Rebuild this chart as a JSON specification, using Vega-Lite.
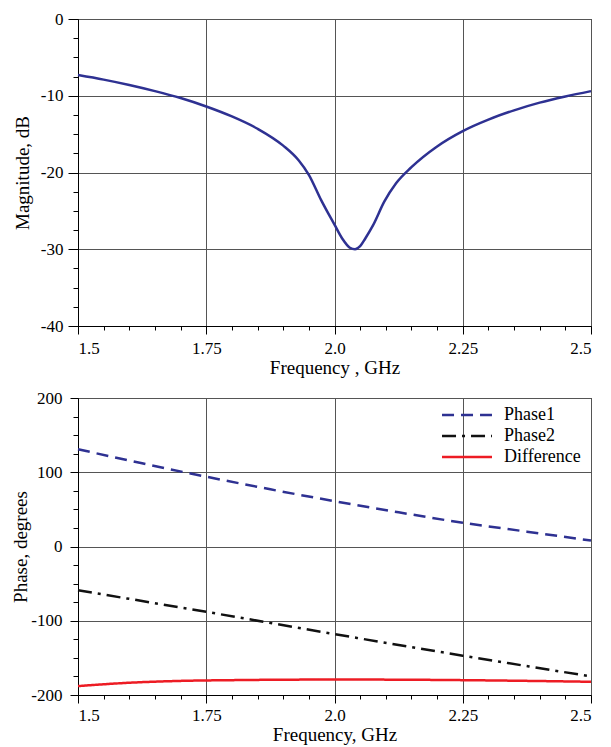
{
  "$schema": "https://vega.github.io/schema/vega-lite/v6.json",
  "padding": {"left": 11, "top": 9, "right": 5, "bottom": 0},
  "spacing": 10,
  "resolve": {"legend": {"color": "independent", "strokeDash": "independent"}},
  "config": {
    "font": "Liberation Serif",
    "view": {"stroke": "#000000", "strokeWidth": 1},
    "axis": {
      "labelFont": "Liberation Serif",
      "labelFontSize": 17,
      "labelColor": "#000000",
      "titleFont": "Liberation Serif",
      "titleFontSize": 19,
      "titleFontWeight": "normal",
      "titleColor": "#000000",
      "domainColor": "#000000",
      "tickColor": "#000000",
      "gridColor": "#555555",
      "gridWidth": 1
    },
    "legend": {
      "labelFont": "Liberation Serif",
      "labelFontSize": 18,
      "labelColor": "#000000"
    }
  },
  "datasets": {
    "mag": [
      {"f": 1.5, "db": -7.3}, {"f": 1.55, "db": -7.9}, {"f": 1.6, "db": -8.6},
      {"f": 1.65, "db": -9.4}, {"f": 1.7, "db": -10.3}, {"f": 1.75, "db": -11.4},
      {"f": 1.8, "db": -12.7}, {"f": 1.85, "db": -14.3}, {"f": 1.9, "db": -16.5},
      {"f": 1.93, "db": -18.4}, {"f": 1.95, "db": -20.3}, {"f": 1.974, "db": -23.6},
      {"f": 2.0, "db": -26.8}, {"f": 2.015, "db": -28.6}, {"f": 2.03, "db": -29.8},
      {"f": 2.04, "db": -30.0}, {"f": 2.05, "db": -29.6}, {"f": 2.06, "db": -28.6},
      {"f": 2.075, "db": -26.9}, {"f": 2.097, "db": -23.8}, {"f": 2.12, "db": -21.4},
      {"f": 2.15, "db": -19.3}, {"f": 2.2, "db": -16.6}, {"f": 2.25, "db": -14.6},
      {"f": 2.3, "db": -13.1}, {"f": 2.35, "db": -11.9}, {"f": 2.4, "db": -10.9},
      {"f": 2.45, "db": -10.1}, {"f": 2.5, "db": -9.4}
    ],
    "phase": [
      {"f": 1.5, "v": 131, "s": "Phase1"}, {"f": 1.625, "v": 112, "s": "Phase1"},
      {"f": 1.75, "v": 94, "s": "Phase1"}, {"f": 1.875, "v": 77, "s": "Phase1"},
      {"f": 2.0, "v": 61, "s": "Phase1"}, {"f": 2.125, "v": 46, "s": "Phase1"},
      {"f": 2.25, "v": 32, "s": "Phase1"}, {"f": 2.375, "v": 20, "s": "Phase1"},
      {"f": 2.5, "v": 8, "s": "Phase1"},
      {"f": 1.5, "v": -59, "s": "Phase2"}, {"f": 1.75, "v": -88, "s": "Phase2"},
      {"f": 2.0, "v": -118, "s": "Phase2"}, {"f": 2.25, "v": -147, "s": "Phase2"},
      {"f": 2.5, "v": -175, "s": "Phase2"},
      {"f": 1.5, "v": -188, "s": "Difference"}, {"f": 1.6, "v": -183.5, "s": "Difference"},
      {"f": 1.7, "v": -181, "s": "Difference"}, {"f": 1.8, "v": -180, "s": "Difference"},
      {"f": 1.9, "v": -179.4, "s": "Difference"}, {"f": 2.0, "v": -179.2, "s": "Difference"},
      {"f": 2.1, "v": -179.3, "s": "Difference"}, {"f": 2.25, "v": -180, "s": "Difference"},
      {"f": 2.4, "v": -181.2, "s": "Difference"}, {"f": 2.5, "v": -182.2, "s": "Difference"}
    ]
  },
  "vconcat": [
    {
      "width": 513,
      "height": 307,
      "data": {"name": "mag"},
      "layer": [
        {
          "mark": {"type": "line", "color": "#2E3192", "strokeWidth": 2.5, "interpolate": "monotone"},
          "encoding": {
            "x": {
              "field": "f", "type": "quantitative",
              "scale": {"domain": [1.5, 2.5], "nice": false, "zero": false},
              "axis": {
                "values": [1.5, 1.75, 2.0, 2.25, 2.5],
                "labelExpr": "datum.value == 2 ? '2.0' : format(datum.value, '.3~f')",
                "labelFont": "Liberation Serif",
                "grid": true, "tickSize": 8, "labelPadding": 6,
                "title": "Frequency , GHz", "titlePadding": 2
              }
            },
            "y": {
              "field": "db", "type": "quantitative",
              "scale": {"domain": [-40, 0], "nice": false},
              "axis": {
                "values": [0, -10, -20, -30, -40],
                "labelExpr": "(datum.value < 0 ? '-' : '') + abs(datum.value)",
                "labelFont": "Liberation Serif",
                "grid": true, "tickSize": 10, "labelPadding": 5,
                "title": "Magnitude, dB", "titlePadding": 8
              }
            }
          }
        },
        {
          "mark": {"type": "point", "opacity": 0},
          "encoding": {
            "x": {
              "field": "f", "type": "quantitative",
              "scale": {"domain": [1.5, 2.5], "nice": false, "zero": false},
              "axis": {
                "orient": "bottom",
                "values": [1.55, 1.6, 1.65, 1.7, 1.8, 1.85, 1.9, 1.95, 2.05, 2.1, 2.15, 2.2, 2.3, 2.35, 2.4, 2.45],
                "labels": false, "grid": false, "domain": false, "tickSize": 4, "title": null
              }
            },
            "y": {
              "field": "db", "type": "quantitative",
              "scale": {"domain": [-40, 0], "nice": false},
              "axis": {
                "orient": "left",
                "values": [-2.5, -5, -7.5, -12.5, -15, -17.5, -22.5, -25, -27.5, -32.5, -35, -37.5],
                "labels": false, "grid": false, "domain": false, "tickSize": 5, "title": null
              }
            }
          }
        }
      ],
      "resolve": {"axis": {"x": "independent", "y": "independent"}}
    },
    {
      "width": 513,
      "height": 297,
      "data": {"name": "phase"},
      "layer": [
        {
          "mark": {"type": "line", "strokeWidth": 2.5, "interpolate": "monotone"},
          "encoding": {
            "x": {
              "field": "f", "type": "quantitative",
              "scale": {"domain": [1.5, 2.5], "nice": false, "zero": false},
              "axis": {
                "values": [1.5, 1.75, 2.0, 2.25, 2.5],
                "labelExpr": "datum.value == 2 ? '2.0' : format(datum.value, '.3~f')",
                "labelFont": "Liberation Serif",
                "grid": true, "tickSize": 8, "labelPadding": 4,
                "title": "Frequency, GHz", "titlePadding": 2
              }
            },
            "y": {
              "field": "v", "type": "quantitative",
              "scale": {"domain": [-200, 200], "nice": false},
              "axis": {
                "values": [200, 100, 0, -100, -200],
                "labelExpr": "(datum.value < 0 ? '-' : '') + abs(datum.value)",
                "labelFont": "Liberation Serif",
                "grid": true, "tickSize": 8, "labelPadding": 8,
                "title": "Phase, degrees", "titlePadding": 0
              }
            },
            "color": {
              "field": "s", "type": "nominal",
              "scale": {"domain": ["Phase1", "Phase2", "Difference"], "range": ["#2E3192", "#111111", "#ED1C24"]},
              "legend": {
                "title": null, "orient": "none", "legendX": 380, "legendY": 8, "padding": 0,
                "labelFont": "Liberation Serif",
                "symbolType": "M-4,0H4", "symbolSize": 156, "symbolStrokeWidth": 2.5,
                "rowPadding": 3, "labelOffset": 28
              }
            },
            "strokeDash": {
              "field": "s", "type": "nominal",
              "scale": {"domain": ["Phase1", "Phase2", "Difference"], "range": [[12, 7], [14, 6, 3, 6], [1, 0]]},
              "legend": null
            }
          }
        },
        {
          "mark": {"type": "point", "opacity": 0},
          "encoding": {
            "x": {
              "field": "f", "type": "quantitative",
              "scale": {"domain": [1.5, 2.5], "nice": false, "zero": false},
              "axis": {
                "orient": "bottom",
                "values": [1.55, 1.6, 1.65, 1.7, 1.8, 1.85, 1.9, 1.95, 2.05, 2.1, 2.15, 2.2, 2.3, 2.35, 2.4, 2.45],
                "labels": false, "grid": false, "domain": false, "tickSize": 4, "title": null
              }
            },
            "y": {
              "field": "v", "type": "quantitative",
              "scale": {"domain": [-200, 200], "nice": false},
              "axis": {
                "orient": "left",
                "values": [175, 150, 125, 75, 50, 25, -25, -50, -75, -125, -150, -175],
                "labels": false, "grid": false, "domain": false, "tickSize": 5, "title": null
              }
            }
          }
        }
      ],
      "resolve": {"axis": {"x": "independent", "y": "independent"}}
    }
  ]
}
